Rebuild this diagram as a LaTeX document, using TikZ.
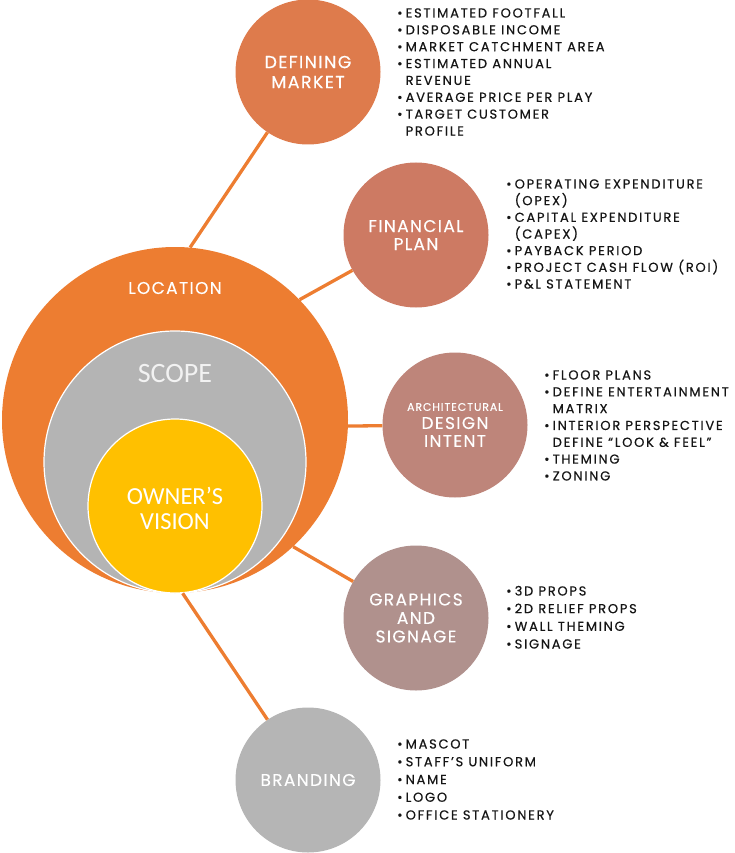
\documentclass[tikz,border=0pt]{standalone}
\usepackage{fontspec}
\setmainfont{Poppins}
\newfontfamily\calib{Carlito}
\newfontfamily\listfont[LetterSpace=13.5,FakeBold=0.5]{Poppins}
\newfontfamily\labfont[LetterSpace=8,FakeBold=0.3]{Poppins}
\definecolor{orC}{HTML}{ED7D31}
\definecolor{grC}{HTML}{B4B4B4}
\definecolor{yeC}{HTML}{FFC000}
\definecolor{dmC}{HTML}{DE7B4C}
\definecolor{fpC}{HTML}{CD7A63}
\definecolor{adC}{HTML}{BE857A}
\definecolor{gsC}{HTML}{B0918D}
\definecolor{brC}{HTML}{B5B5B5}
\definecolor{txC}{HTML}{151515}
\newcommand{\bul}{\makebox[7.5pt][l]{\kern-1pt•}}
\newcommand{\cont}{\hspace*{7.5pt}}
\begin{document}
\begin{tikzpicture}[x=1pt,y=-1pt,
  bubble/.style={circle, inner sep=0pt, minimum size=145pt, text=white, align=center, font=\labfont\fontsize{17}{20}\selectfont},
  item/.style={anchor=base west, inner sep=0pt, text=txC, font=\listfont\fontsize{13}{15}\selectfont},
  link/.style={draw=orC, line width=3.3pt},
  biglabel/.style={text=white, align=center, inner sep=0pt}]
\useasboundingbox (0,0) rectangle (735,853);
% core circles
\node[circle, fill=orC, minimum size=346pt, inner sep=0pt] (loc) at (175,420) {};
\node[circle, fill=grC, draw=white, line width=1.2pt, minimum size=262pt, inner sep=0pt] (scope) at (175,462) {};
\node[circle, fill=yeC, draw=white, line width=1.2pt, minimum size=174pt, inner sep=0pt] (vis) at (175,506) {};
\node[biglabel, font=\labfont\fontsize{17}{18}\selectfont] (loct) at (175,288) {LOCATION};
\node[biglabel, text=white!95!black, font=\calib\fontsize{28}{30}\selectfont] (scopet) at (175,374) {SCOPE};
\node[biglabel, font=\calib\fontsize{24.5}{25}\selectfont] (vist) at (175,508) {OWNER’S\\VISION};
% satellite circles
\node[bubble, fill=dmC, font=\labfont\fontsize{17.5}{20}\selectfont] (dm) at (308,72) {DEFINING\\MARKET};
\node[bubble, fill=fpC, font=\labfont\fontsize{17}{18}\selectfont] (fp) at (416,235) {FINANCIAL\\PLAN};
\node[bubble, fill=adC] (adi) at (455,425) {};
\node[biglabel, font=\labfont\fontsize{11}{11}\selectfont] (adi1) at (455,407) {ARCHITECTURAL};
\node[biglabel, font=\labfont\fontsize{17}{18}\selectfont] (adi2) at (455,423) {DESIGN};
\node[biglabel, font=\labfont\fontsize{17}{18}\selectfont] (adi3) at (455,441) {INTENT};
\node[bubble, fill=gsC, font=\labfont\fontsize{17}{18.5}\selectfont] (gs) at (416,618) {GRAPHICS\\AND\\SIGNAGE};
\node[bubble, fill=brC] (br) at (308,780) {BRANDING};
% connectors
\draw[link] (dm) -- (loc.85);
\draw[link] (fp) -- (loc.44);
\draw[link] (adi) -- (loc.-2);
\draw[link] (gs) -- (loc.-47);
\draw[link] (vis.-85) -- (br);
% lists
\foreach \t [count=\i] in {{\bul ESTIMATED FOOTFALL},{\bul DISPOSABLE INCOME},{\bul MARKET CATCHMENT AREA},{\bul ESTIMATED ANNUAL},{\cont REVENUE},{\bul AVERAGE PRICE PER PLAY},{\bul TARGET CUSTOMER},{\cont PROFILE}}
  \node[item] (dml\i) at (398,{13+4.5+(\i-1)*16.86}) {\t};
\foreach \t [count=\i] in {{\bul OPERATING EXPENDITURE},{\cont (OPEX)},{\bul CAPITAL EXPENDITURE},{\cont (CAPEX)},{\bul PAYBACK PERIOD},{\bul PROJECT CASH FLOW (ROI)},{\bul P\&L STATEMENT}}
  \node[item] (fpl\i) at (507,{184+4.5+(\i-1)*16.67}) {\t};
\foreach \t [count=\i] in {{\bul FLOOR PLANS},{\bul DEFINE ENTERTAINMENT},{\cont MATRIX},{\bul INTERIOR PERSPECTIVE},{\cont DEFINE “LOOK \& FEEL”},{\bul THEMING},{\bul ZONING}}
  \node[item] (adl\i) at (545,{375+4.5+(\i-1)*16.83}) {\t};
\foreach \t [count=\i] in {{\bul 3D PROPS},{\bul 2D RELIEF PROPS},{\bul WALL THEMING},{\bul SIGNAGE}}
  \node[item] (gsl\i) at (507,{591+4.5+(\i-1)*17.67}) {\t};
\foreach \t [count=\i] in {{\bul MASCOT},{\bul STAFF’S UNIFORM},{\bul NAME},{\bul LOGO},{\bul OFFICE STATIONERY}}
  \node[item] (brl\i) at (398,{744+4.5+(\i-1)*17.75}) {\t};
\end{tikzpicture}
\end{document}
